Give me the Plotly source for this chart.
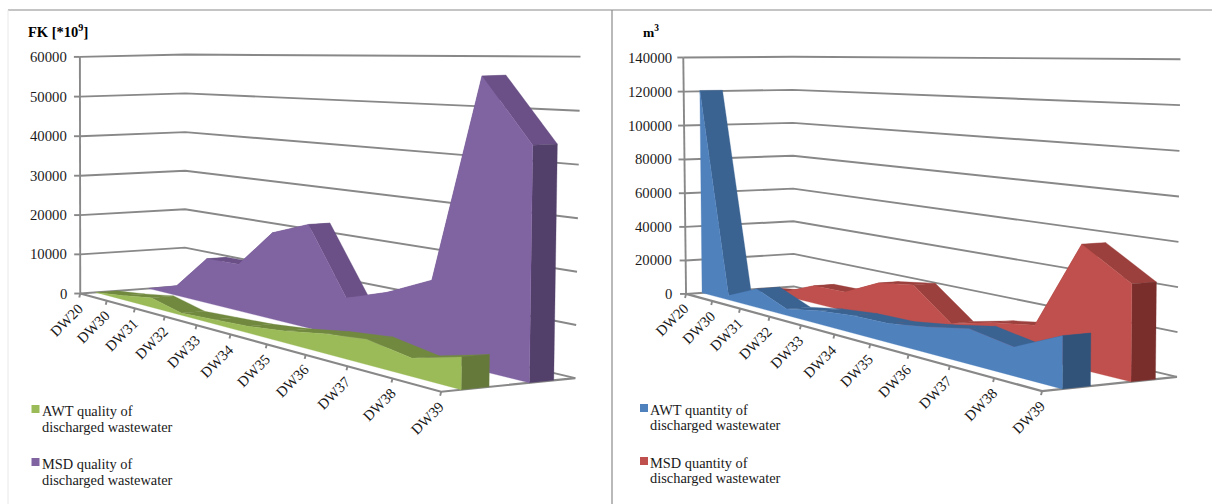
import numpy as np
import plotly.graph_objects as go

categories = ["DW20", "DW30", "DW31", "DW32", "DW33", "DW34", "DW35", "DW36", "DW37", "DW38", "DW39"]
awt_quality = [0, 1000, 2300, 500, 1000, 1500, 2500, 4000, 5000, 3500, 6000]
msd_quality = [0, 2500, 10800, 11000, 19800, 23000, 8500, 11500, 15700, 56500, 44000]
awt_quantity = [120500, 2500, 10500, 3500, 7000, 9000, 9500, 12500, 16500, 13000, 23000]
msd_quantity = [0, 2500, 10000, 10500, 19500, 22500, 7000, 12000, 15500, 57000, 43000]
quality_ticks = [0, 10000, 20000, 30000, 40000, 50000, 60000]
quantity_ticks = [0, 20000, 40000, 60000, 80000, 100000, 120000, 140000]

SERIF = "Liberation Serif"
GRID = "#888888"
TXT = "#1a1a1a"
DEPTHS = {"front": (0.145, 0.35), "back": (0.65, 0.835)}


def fit_camera(points):
    A, b = [], []
    for (u, w, h), (x, y) in points:
        A.append([u, w, h, 1, 0, 0, 0, 0, -x * u, -x * w, -x * h]); b.append(x)
        A.append([0, 0, 0, 0, u, w, h, 1, -y * u, -y * w, -y * h]); b.append(y)
    p = np.linalg.lstsq(np.array(A, float), np.array(b, float), rcond=None)[0]
    return np.append(p, 1.0).reshape(3, 4)


def calibration(front_ticks, left, back, right, front_right):
    pts = [((i, 0, 0), xy) for i, xy in enumerate(front_ticks)]
    n = len(left) - 1
    for k in range(n + 1):
        pts.append(((0, 0, k / n), left[k]))
        pts.append(((0, 1, k / n), back[k]))
        pts.append(((10, 1, k / n), right[k]))
    pts.append(((10, 0, 0), front_right))
    return pts


cam_left = fit_camera(calibration(
    [(81, 293), (107, 302), (136, 310), (166, 318), (197, 326), (230, 335), (267, 345), (305, 355), (347, 367), (392, 379), (440, 391)],
    [(81, 293), (81, 254), (80, 214), (80, 175), (80, 135), (79, 95), (79, 57)],
    [(183, 285), (184, 247), (184, 209), (185, 171), (185, 133), (186, 94), (187, 56)],
    [(577, 377), (577, 324), (577, 271), (578, 218), (579, 165), (580, 111), (580, 57)],
    (440, 391)))
cam_right = fit_camera(calibration(
    [(686, 293), (713, 302), (740, 310), (770, 318), (802, 326), (834, 335), (872, 345), (907, 353), (950, 365), (993, 379), (1042, 391)],
    [(686, 293), (686, 260), (685, 226), (685, 193), (684, 159), (684, 125), (683, 92), (683, 58)],
    [(793, 286), (793, 254), (793, 221), (793, 189), (793, 156), (793, 123), (793, 90), (793, 57)],
    [(1177, 377), (1178, 332), (1178, 287), (1178, 242), (1179, 197), (1180, 150), (1180, 105), (1180, 59)],
    (1042, 391)))


def project(cam, u, w, h):
    q = cam @ np.array([u, w, h, 1.0])
    return q[0] / q[2], q[1] / q[2]


def path(cam, triples):
    pts = [project(cam, *t) for t in triples]
    return [p[0] for p in pts], [p[1] for p in pts]


fig = go.Figure()


def line(xs, ys, color=GRID, width=1.9):
    fig.add_trace(go.Scatter(x=xs, y=ys, mode="lines", line=dict(color=color, width=width),
                             hoverinfo="skip", showlegend=False))


def polys(cam, quads, color, name):
    for q in quads:
        x, y = path(cam, q + [q[0]])
        fig.add_trace(go.Scatter(x=x, y=y, mode="lines", fill="toself", fillcolor=color,
                                 line=dict(color=color, width=0.3), name=name, hoverinfo="skip", showlegend=False))


def prism(cam, values, vmax, depth, colors, name):
    w0, w1 = depth
    h = [v / vmax for v in values]
    n = len(h)
    tops = [[(i, w0, h[i]), (i + 1, w0, h[i + 1]), (i + 1, w1, h[i + 1]), (i, w1, h[i])] for i in range(n - 1)]
    polys(cam, tops, colors[1], name + " top")
    last = n - 1
    polys(cam, [[(last, w0, 0), (last, w1, 0), (last, w1, h[last]), (last, w0, h[last])]], colors[2], name + " side")
    front = [(i, w0, h[i]) for i in range(n)] + [(last, w0, 0), (0, w0, 0)]
    polys(cam, [front], colors[0], name)


def panel(cam, ticks, series, title, title_x, title_size, legend_entries, swatch_x, text_x, ticklabel_dx, ylab_right):
    vmax = ticks[-1]
    for t in ticks:
        x, y = path(cam, [(0, 0, t / vmax), (0, 1, t / vmax), (10, 1, t / vmax)])
        line(x, y)
        x0, y0 = project(cam, 0, 0, t / vmax)
        line([x0 - 6, x0], [y0, y0])
        fig.add_annotation(x=ylab_right, y=y0, text=f"{t}", showarrow=False, xanchor="right", yanchor="middle",
                           font=dict(family=SERIF, size=14.7, color=TXT))
    x, y = path(cam, [(0, 0, 0), (0, 0, 1)])
    line(x, y)
    x, y = path(cam, [(0, 0, 0), (10, 0, 0), (10, 1, 0)])
    line(x, y, width=2.2)
    for s in series:
        prism(cam, *s)
    for i, c in enumerate(categories):
        x0, y0 = project(cam, i, 0, 0)
        line([x0, x0 - 1], [y0, y0 + 4])
        fig.add_annotation(x=x0 + ticklabel_dx, y=y0 + 26.5, text=c, showarrow=False, textangle=-45,
                           xanchor="center", yanchor="middle", font=dict(family=SERIF, size=14.7, color=TXT))
    fig.add_annotation(x=title_x, y=31, text=title, showarrow=False, xanchor="left", yanchor="middle",
                       font=dict(family=SERIF, size=title_size, color="#000000", weight="bold"))
    for (color, name, y1, y2) in legend_entries:
        fig.add_trace(go.Scatter(x=[swatch_x], y=[(y1 - 2)], mode="markers",
                                 marker=dict(symbol="square", size=8, color=color, line=dict(width=0)),
                                 hoverinfo="skip", showlegend=False))
        l1, l2 = name
        fig.add_annotation(x=text_x, y=y1, text=l1, showarrow=False, xanchor="left", yanchor="middle",
                           font=dict(family=SERIF, size=14.4, color=TXT))
        fig.add_annotation(x=text_x, y=y2, text=l2, showarrow=False, xanchor="left", yanchor="middle",
                           font=dict(family=SERIF, size=14.4, color=TXT))


GREEN = ("#9BBB59", "#71893F", "#657A3A")
PURPLE = ("#8064A2", "#6A5086", "#523F6A")
BLUE = ("#4F81BD", "#3A6392", "#31537A")
RED = ("#C0504D", "#9C403D", "#7A2E2C")

panel(cam_left, quality_ticks,
      [(msd_quality, 60000, DEPTHS["back"], PURPLE, "MSD quality of discharged wastewater"),
       (awt_quality, 60000, DEPTHS["front"], GREEN, "AWT quality of discharged wastewater")],
      "FK [*10<sup>9</sup>]", 26, 14.5,
      [("#9BBB59", ("AWT quality of", "discharged wastewater"), 411, 427),
       ("#8064A2", ("MSD quality of", "discharged wastewater"), 464, 480)],
      35.5, 40, -13.5, 69)
panel(cam_right, quantity_ticks,
      [(msd_quantity, 140000, DEPTHS["back"], RED, "MSD quantity of discharged wastewater"),
       (awt_quantity, 140000, DEPTHS["front"], BLUE, "AWT quantity of discharged wastewater")],
      "m<sup>3</sup>", 641, 13.5,
      [("#4F81BD", ("AWT quantity of", "discharged wastewater"), 410, 425),
       ("#C0504D", ("MSD quantity of", "discharged wastewater"), 463, 478)],
      644, 648, -14, 674)

line([8, 1212], [10, 10], color="#8a8a8a", width=1.2)
line([612, 612], [10, 504], color="#8a8a8a", width=1.2)
line([8, 8], [10, 504], color="#e8e8e8", width=1)

fig.update_layout(
    width=1212, height=504, margin=dict(l=0, r=0, t=0, b=0),
    paper_bgcolor="white", plot_bgcolor="white", showlegend=False,
    xaxis=dict(range=[0, 1212], visible=False, fixedrange=True),
    yaxis=dict(range=[504, 0], visible=False, fixedrange=True),
)
fig.write_html("out.html", config=dict(displayModeBar=False),
               post_script="document.body.style.margin='0';document.body.style.overflow='hidden';")
